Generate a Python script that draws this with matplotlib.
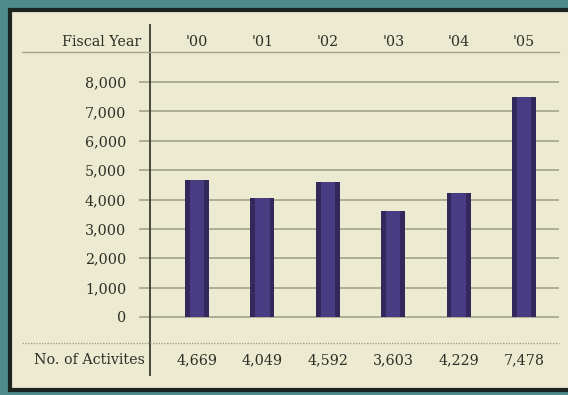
import matplotlib.pyplot as plt
from matplotlib.patches import Rectangle
from matplotlib.lines import Line2D
from matplotlib.transforms import blended_transform_factory

# Activity counts by fiscal year
years = ["'00", "'01", "'02", "'03", "'04", "'05"]
activities = [4669, 4049, 4592, 3603, 4229, 7478]
value_labels = ['4,669', '4,049', '4,592', '3,603', '4,229', '7,478']
y_ticks = [0, 1000, 2000, 3000, 4000, 5000, 6000, 7000, 8000]
y_tick_labels = ['0', '1,000', '2,000', '3,000', '4,000', '5,000', '6,000', '7,000', '8,000']

W, H = 568, 395
teal = '#4f8a8f'
paper = '#ecebd1'
ink = '#2f2e26'
rule = '#a3a38a'
font = 'DejaVu Serif'
fs = 10.3

fig = plt.figure(figsize=(W / 100, H / 100), dpi=100)
fig.patch.set_facecolor(teal)

# framed card, running off the right edge
fig.add_artist(Rectangle((10 / W, 1 - 390 / H), 1.1, 380 / H, transform=fig.transFigure,
                         facecolor=paper, edgecolor='#1c2422', linewidth=3, zorder=0))

ax = fig.add_axes([150 / W, 20 / H, 409 / W, 350 / H])
ax.set_facecolor('none')

# y scale: 0 at y=317px, 8000 at y=82px
ppu = (317 - 82) / 8000
ax.set_ylim(-(375 - 317) / ppu, 8000 + (82 - 25) / ppu)
ax.set_xlim(-47 / 65.4, (559 - 197) / 65.4)

x = list(range(len(years)))
ax.bar(x, activities, width=0.37, color='#33285c', zorder=3)
ax.bar(x, activities, width=0.22, color='#483c82', zorder=4)

ax.set_yticks(y_ticks)
ax.set_yticklabels(y_tick_labels, fontsize=fs, color=ink, family=font)
ax.tick_params(axis='y', length=8, width=1.2, color=rule, pad=9)
ax.set_xticks([])
ax.yaxis.grid(True, color=rule, linewidth=1.2)
ax.set_axisbelow(True)
for side in ['top', 'right', 'bottom']:
    ax.spines[side].set_visible(False)
ax.spines['left'].set_color('#3a3a30')
ax.spines['left'].set_linewidth(1.3)

# header and footer rows
tr = blended_transform_factory(ax.transData, fig.transFigure)
fig.add_artist(Line2D([22 / W, 559 / W], [1 - 52 / H] * 2, transform=fig.transFigure,
                      color=rule, linewidth=1.0))
fig.add_artist(Line2D([22 / W, 559 / W], [1 - 343 / H] * 2, transform=fig.transFigure,
                      color=rule, linewidth=1.0, linestyle=(0, (1, 1))))

for xi, yr, lab in zip(x, years, value_labels):
    ax.text(xi, 1 - 42 / H, yr, transform=tr, ha='center', va='center',
            fontsize=fs, color=ink, family=font)
    ax.text(xi, 1 - 360 / H, lab, transform=tr, ha='center', va='center',
            fontsize=fs, color=ink, family=font)

fig.text(141 / W, 1 - 42 / H, 'Fiscal Year', ha='right', va='center',
         fontsize=fs, color=ink, family=font)
fig.text(145 / W, 1 - 360 / H, 'No. of Activites', ha='right', va='center',
         fontsize=fs, color=ink, family=font)

fig.savefig('out.png', dpi=100, facecolor=fig.get_facecolor())
